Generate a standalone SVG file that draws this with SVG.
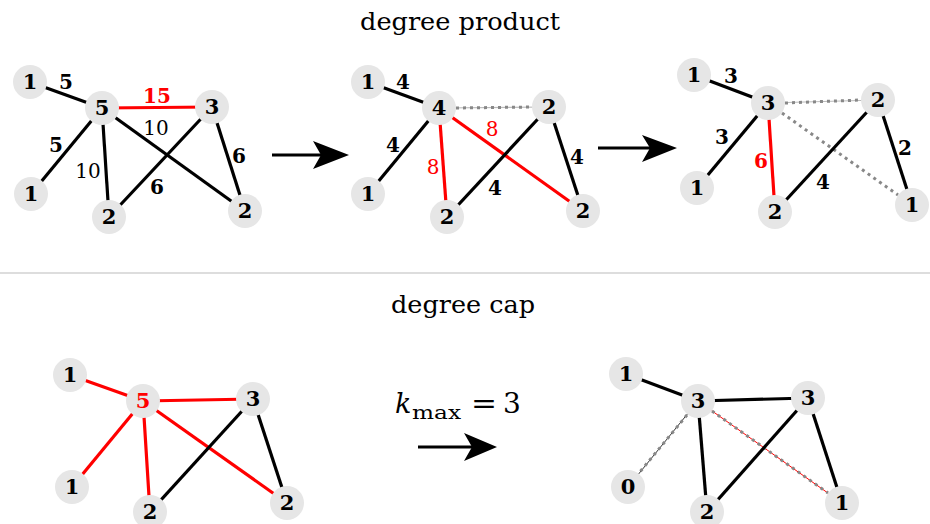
<svg xmlns="http://www.w3.org/2000/svg" width="930" height="524" viewBox="0 0 930 524">
<style>
.e{stroke:#000;stroke-width:3.2;fill:none}
.r{stroke:#f00;stroke-width:3.2;fill:none}
.dl{stroke:#bbb;stroke-width:1.2;fill:none}
.dd{stroke:#888;stroke-width:3;stroke-dasharray:3 4;fill:none}
.nc{fill:#e6e6e6}
.nt{font-family:"DejaVu Serif",serif;font-weight:bold;font-size:21px;text-anchor:middle;fill:#000}
.lb{font-family:"DejaVu Serif",serif;font-size:20px;text-anchor:middle;fill:#000}
.b{font-weight:bold}
.red{fill:#f00}
.ttl{font-family:"DejaVu Serif",serif;font-size:25px;text-anchor:middle;fill:#000}
.km{font-family:"DejaVu Serif",serif;fill:#000}
</style>
<defs>
<circle id="c" r="17" class="nc"/>
</defs>
<text class="ttl" x="460" y="30" textLength="200" lengthAdjust="spacingAndGlyphs">degree product</text>
<line x1="0" y1="273" x2="930" y2="273" stroke="#bbb" stroke-width="1"/>
<text class="ttl" x="463" y="313" textLength="144" lengthAdjust="spacingAndGlyphs">degree cap</text>
<g id="connectors">
<line class="e" x1="30" y1="82" x2="102" y2="108"/>
<line class="r" x1="102" y1="108" x2="212" y2="107"/>
<line class="e" x1="102" y1="108" x2="31" y2="194"/>
<line class="e" x1="102" y1="108" x2="109" y2="217"/>
<line class="e" x1="102" y1="108" x2="245" y2="211"/>
<line class="e" x1="212" y1="107" x2="109" y2="217"/>
<line class="e" x1="212" y1="107" x2="245" y2="211"/>
<line class="e" x1="272" y1="155" x2="322" y2="155"/>
<path d="M349,155 L313,141 L321,155 L313,169 Z" fill="#000"/>
<line class="e" x1="368" y1="82" x2="439" y2="108"/>
<line class="dl" x1="439" y1="108" x2="549" y2="107"/>
<line class="dd" x1="456" y1="108" x2="532" y2="107"/>
<line class="e" x1="439" y1="108" x2="368" y2="194"/>
<line class="r" x1="439" y1="108" x2="447" y2="217"/>
<line class="r" x1="439" y1="108" x2="583" y2="211"/>
<line class="e" x1="549" y1="107" x2="447" y2="217"/>
<line class="e" x1="549" y1="107" x2="583" y2="211"/>
<line class="e" x1="598" y1="148" x2="650" y2="148"/>
<path d="M677,148 L642,135 L650,148 L642,162 Z" fill="#000"/>
<line class="e" x1="694" y1="75" x2="768" y2="103"/>
<line class="dl" x1="768" y1="103" x2="878" y2="100"/>
<line class="dd" x1="785" y1="103" x2="861" y2="100"/>
<line class="dd" x1="782" y1="113" x2="898" y2="195"/>
<line class="e" x1="768" y1="103" x2="697" y2="188"/>
<line class="r" x1="768" y1="103" x2="775" y2="212"/>
<line class="e" x1="878" y1="100" x2="775" y2="212"/>
<line class="e" x1="878" y1="100" x2="912" y2="205"/>
<line class="r" x1="70" y1="375" x2="143" y2="401"/>
<line class="r" x1="143" y1="401" x2="253" y2="399"/>
<line class="r" x1="143" y1="401" x2="72" y2="487"/>
<line class="r" x1="143" y1="401" x2="150" y2="512"/>
<line class="r" x1="143" y1="401" x2="287" y2="503"/>
<line class="e" x1="253" y1="399" x2="150" y2="512"/>
<line class="e" x1="253" y1="399" x2="287" y2="503"/>
<line class="e" x1="418" y1="447" x2="472" y2="447"/>
<path d="M497,447 L464,433 L472,447 L464,461 Z" fill="#000"/>
<line class="e" x1="626" y1="374" x2="698" y2="401"/>
<line class="e" x1="698" y1="401" x2="808" y2="398"/>
<line stroke="#333" stroke-width="1" x1="698" y1="401" x2="628" y2="487"/>
<line class="dd" x1="687" y1="415" x2="639" y2="473"/>
<line stroke="#f00" stroke-width="1" x1="698" y1="401" x2="842" y2="503"/>
<line class="dd" x1="712" y1="411" x2="828" y2="493"/>
<line class="e" x1="698" y1="401" x2="707" y2="512"/>
<line class="e" x1="808" y1="398" x2="707" y2="512"/>
<line class="e" x1="808" y1="398" x2="842" y2="503"/>
</g>
<g id="edge-labels">
<text class="lb b" x="66" y="89">5</text>
<text class="lb b red" x="157" y="103">15</text>
<text class="lb" x="156" y="135">10</text>
<text class="lb b" x="56" y="152">5</text>
<text class="lb" x="88" y="178">10</text>
<text class="lb b" x="157" y="194">6</text>
<text class="lb b" x="239" y="163">6</text>
<text class="lb b" x="403" y="89">4</text>
<text class="lb red" x="492" y="136">8</text>
<text class="lb b" x="393" y="152">4</text>
<text class="lb red" x="433" y="174">8</text>
<text class="lb b" x="495" y="195">4</text>
<text class="lb b" x="577" y="164">4</text>
<text class="lb b" x="731" y="83">3</text>
<text class="lb b" x="722" y="144">3</text>
<text class="lb b red" x="761" y="168">6</text>
<text class="lb b" x="823" y="189">4</text>
<text class="lb b" x="905" y="155">2</text>
</g>
<g id="kmax-label">
<text class="km" x="395" y="413" font-size="27" font-style="italic">k</text>
<text class="km" x="412" y="419" font-size="19" textLength="49" lengthAdjust="spacingAndGlyphs">max</text>
<text class="km" x="471" y="413" font-size="27" textLength="26" lengthAdjust="spacingAndGlyphs">=</text>
<text class="km" x="503" y="413" font-size="28">3</text>
</g>
<g id="g1n1a"><use href="#c" x="30" y="82"/><text class="nt" x="30" y="89">1</text></g>
<g id="g1n5"><use href="#c" x="102" y="108"/><text class="nt" x="102" y="115">5</text></g>
<g id="g1n3"><use href="#c" x="212" y="107"/><text class="nt" x="212" y="114">3</text></g>
<g id="g1n1b"><use href="#c" x="31" y="194"/><text class="nt" x="31" y="201">1</text></g>
<g id="g1n2a"><use href="#c" x="109" y="217"/><text class="nt" x="109" y="224">2</text></g>
<g id="g1n2b"><use href="#c" x="245" y="211"/><text class="nt" x="245" y="218">2</text></g>
<g id="g2n1a"><use href="#c" x="368" y="82"/><text class="nt" x="368" y="89">1</text></g>
<g id="g2n4"><use href="#c" x="439" y="108"/><text class="nt" x="439" y="115">4</text></g>
<g id="g2n2t"><use href="#c" x="549" y="107"/><text class="nt" x="549" y="114">2</text></g>
<g id="g2n1b"><use href="#c" x="368" y="194"/><text class="nt" x="368" y="201">1</text></g>
<g id="g2n2a"><use href="#c" x="447" y="217"/><text class="nt" x="447" y="224">2</text></g>
<g id="g2n2b"><use href="#c" x="583" y="211"/><text class="nt" x="583" y="218">2</text></g>
<g id="g3n1a"><use href="#c" x="694" y="75"/><text class="nt" x="694" y="82">1</text></g>
<g id="g3n3"><use href="#c" x="768" y="103"/><text class="nt" x="768" y="110">3</text></g>
<g id="g3n2t"><use href="#c" x="878" y="100"/><text class="nt" x="878" y="107">2</text></g>
<g id="g3n1b"><use href="#c" x="697" y="188"/><text class="nt" x="697" y="195">1</text></g>
<g id="g3n2a"><use href="#c" x="775" y="212"/><text class="nt" x="775" y="219">2</text></g>
<g id="g3n1c"><use href="#c" x="912" y="205"/><text class="nt" x="912" y="212">1</text></g>
<g id="g4n1a"><use href="#c" x="70" y="375"/><text class="nt" x="70" y="382">1</text></g>
<g id="g4n5"><use href="#c" x="143" y="401"/><text class="nt red" x="143" y="408">5</text></g>
<g id="g4n3"><use href="#c" x="253" y="399"/><text class="nt" x="253" y="406">3</text></g>
<g id="g4n1b"><use href="#c" x="72" y="487"/><text class="nt" x="72" y="494">1</text></g>
<g id="g4n2a"><use href="#c" x="150" y="512"/><text class="nt" x="150" y="519">2</text></g>
<g id="g4n2b"><use href="#c" x="287" y="503"/><text class="nt" x="287" y="510">2</text></g>
<g id="g5n1"><use href="#c" x="626" y="374"/><text class="nt" x="626" y="381">1</text></g>
<g id="g5n3a"><use href="#c" x="698" y="401"/><text class="nt" x="698" y="408">3</text></g>
<g id="g5n3b"><use href="#c" x="808" y="398"/><text class="nt" x="808" y="405">3</text></g>
<g id="g5n0"><use href="#c" x="628" y="487"/><text class="nt" x="628" y="494">0</text></g>
<g id="g5n2"><use href="#c" x="707" y="512"/><text class="nt" x="707" y="519">2</text></g>
<g id="g5n1c"><use href="#c" x="842" y="503"/><text class="nt" x="842" y="510">1</text></g>
</svg>
